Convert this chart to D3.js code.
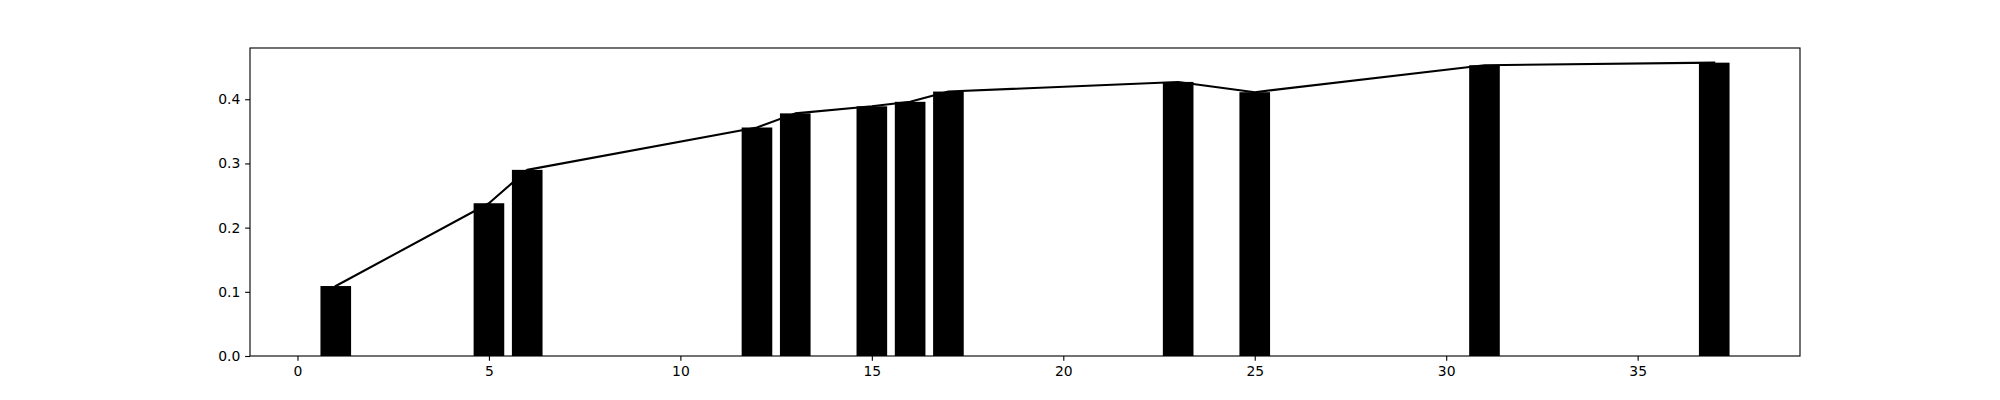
<!DOCTYPE html>
<html>
<head>
<meta charset="utf-8">
<script src="https://cdn.jsdelivr.net/npm/d3@7"></script>
<style>
  html, body { margin: 0; padding: 0; background: #fff; }
  svg { display: block; }
  .tick text { font-family: "DejaVu Sans", sans-serif; font-size: 13.9px; fill: #000; }
</style>
</head>
<body>
<svg id="chart" width="2000" height="400"></svg>
<script>
// Data
const categories = [1, 5, 6, 12, 13, 15, 16, 17, 23, 25, 31, 37];
const barValues  = [0.109, 0.238, 0.290, 0.356, 0.378, 0.389, 0.396, 0.412, 0.427, 0.411, 0.453, 0.457];
const lineValues = [0.109, 0.238, 0.290, 0.356, 0.378, 0.389, 0.396, 0.412, 0.427, 0.411, 0.453, 0.457];
const xTicks = [0, 5, 10, 15, 20, 25, 30, 35];
const yTicks = [0.0, 0.1, 0.2, 0.3, 0.4];

(function () {
  const W = 2000, H = 400;
  const mLeft = 250, mRight = 1800, mTop = 48, mBottom = 356;
  const barWidth = 0.8;

  const xmin = d3.min(categories) - barWidth / 2;
  const xmax = d3.max(categories) + barWidth / 2;
  const xpad = (xmax - xmin) * 0.05;
  const x = d3.scaleLinear().domain([xmin - xpad, xmax + xpad]).range([mLeft, mRight]);
  const ymaxData = Math.max(d3.max(barValues), d3.max(lineValues));
  const y = d3.scaleLinear().domain([0, ymaxData * 1.05]).range([mBottom, mTop]);

  const svg = d3.select("#chart");
  svg.append("rect").attr("width", W).attr("height", H).attr("fill", "#fff");

  const data = categories.map((c, i) => ({ c, v: barValues[i], l: lineValues[i] }));

  // Bars
  svg.append("g").selectAll("rect").data(data).join("rect")
    .attr("x", d => x(d.c - barWidth / 2))
    .attr("width", d => x(d.c + barWidth / 2) - x(d.c - barWidth / 2))
    .attr("y", d => y(d.v))
    .attr("height", d => y(0) - y(d.v))
    .attr("fill", "#000");

  // Line
  const line = d3.line().x(d => x(d.c)).y(d => y(d.l));
  svg.append("path").datum(data)
    .attr("d", line)
    .attr("fill", "none")
    .attr("stroke", "#000")
    .attr("stroke-width", 2.08)
    .attr("stroke-linejoin", "round")
    .attr("stroke-linecap", "square");

  // Axes
  const tickLen = 4.86, tickPad = 4.86;
  const xAxis = d3.axisBottom(x).tickValues(xTicks).tickFormat(d3.format("d"))
    .tickSize(tickLen).tickSizeOuter(0).tickPadding(tickPad);
  const yAxis = d3.axisLeft(y).tickValues(yTicks).tickFormat(d3.format(".1f"))
    .tickSize(tickLen).tickSizeOuter(0).tickPadding(tickPad);

  const gx = svg.append("g").attr("transform", `translate(0,${mBottom})`).call(xAxis);
  const gy = svg.append("g").attr("transform", `translate(${mLeft},0)`).call(yAxis);
  [gx, gy].forEach(g => {
    g.select(".domain").remove();
    g.selectAll(".tick line").attr("stroke", "#000").attr("stroke-width", 1.11);
    g.selectAll(".tick text").attr("font-family", "DejaVu Sans").attr("font-size", 13.9);
  });

  // Spines
  svg.append("rect")
    .attr("x", mLeft).attr("y", mTop)
    .attr("width", mRight - mLeft).attr("height", mBottom - mTop)
    .attr("fill", "none").attr("stroke", "#000").attr("stroke-width", 1.11);
})();
</script>
</body>
</html>
